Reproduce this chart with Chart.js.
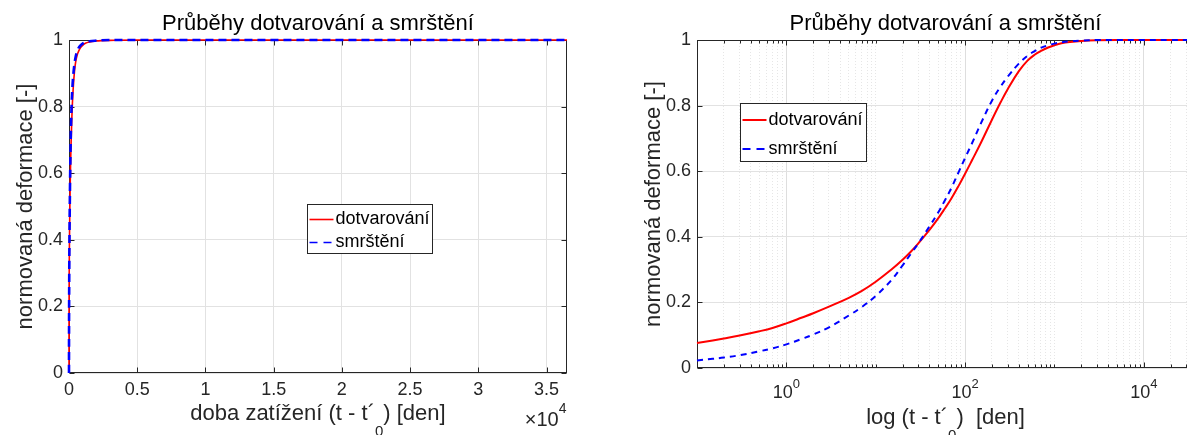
<!DOCTYPE html>
<html>
<head>
<meta charset="utf-8">
<script src="https://cdn.jsdelivr.net/npm/chart.js@4.4.0/dist/chart.umd.min.js"></script>
<style>
  html, body { margin: 0; padding: 0; background: #fff; overflow: hidden; width: 1187px; height: 435px; }
  #lin { position: absolute; left: 0; top: 0; }
  #log { position: absolute; left: 628px; top: 0; }
</style>
</head>
<body>
<canvas id="lin" width="590" height="435"></canvas>
<canvas id="log" width="589" height="435"></canvas>
<script>
// doba zatizeni [den] a normovane deformace
const days   = [0, 0.1, 0.15, 0.2, 0.3, 0.5, 0.7, 1, 1.5, 2, 3, 5, 7, 10, 15, 20, 25, 30, 40, 50, 60, 70, 85, 100, 120, 150, 200, 250, 300, 400, 500, 600, 700, 850, 1000, 1200, 1500, 2000, 3000, 5000, 10000, 20000, 36500];
const creep  = [0, 0.076, 0.084, 0.090, 0.099, 0.112, 0.122, 0.136, 0.154, 0.167, 0.187, 0.214, 0.235, 0.263, 0.300, 0.330, 0.356, 0.380, 0.421, 0.456, 0.488, 0.516, 0.556, 0.592, 0.634, 0.686, 0.757, 0.810, 0.850, 0.905, 0.937, 0.955, 0.966, 0.977, 0.984, 0.990, 0.994, 0.997, 0.999, 1, 1, 1, 1];
const shrink = [0, 0.023, 0.028, 0.032, 0.039, 0.051, 0.060, 0.072, 0.089, 0.102, 0.124, 0.160, 0.186, 0.220, 0.268, 0.313, 0.350, 0.380, 0.432, 0.474, 0.513, 0.548, 0.598, 0.640, 0.686, 0.745, 0.815, 0.858, 0.888, 0.928, 0.952, 0.966, 0.976, 0.984, 0.989, 0.993, 0.996, 0.998, 1, 1, 1, 1, 1];

const seriesNames = ['dotvarování', 'smrštění'];
const linTicks = [0, 5000, 10000, 15000, 20000, 25000, 30000, 35000];
const logMajor = [1, 100, 10000];
const logExp = { 1: '0', 100: '2', 10000: '4' };
const yTicks = [0, 0.2, 0.4, 0.6, 0.8, 1];

const titleText = 'Průběhy dotvarování a smrštění';
const yLabel = 'normovaná deformace [-]';
const xLabelLin = ['doba zatížení (t - t´', '0', ') [den]'];
const xLabelLog = ['log (t - t´', '0', ')  [den]'];

const FONT = '"Liberation Sans", Arial, sans-serif';
Chart.defaults.font.family = FONT;
Chart.defaults.color = '#262626';

// ramecek kolem grafu + ticky dovnitr (jako v matlabu)
const framePlugin = {
  id: 'frame',
  beforeDatasetsDraw(chart, args, o) {
    const { ctx, chartArea: a, scales } = chart;
    const L = Math.round(a.left) + 0.5, R = Math.round(a.right) - 0.5;
    const T = Math.round(a.top) + 0.5, B = Math.round(a.bottom) - 0.5;
    ctx.save();
    ctx.strokeStyle = '#262626';
    ctx.lineWidth = 1;
    ctx.strokeRect(L, T, R - L, B - T);
    ctx.beginPath();
    scales.x.ticks.forEach(t => {
      const px = Math.round(scales.x.getPixelForValue(t.value)) + 0.5;
      const len = (o.minor && !logMajor.includes(t.value)) ? 3 : 5;
      ctx.moveTo(px, B); ctx.lineTo(px, B - len);
      ctx.moveTo(px, T); ctx.lineTo(px, T + len);
    });
    scales.y.ticks.forEach(t => {
      const py = Math.round(scales.y.getPixelForValue(t.value)) + 0.5;
      ctx.moveTo(L, py); ctx.lineTo(L + 5, py);
      ctx.moveTo(R, py); ctx.lineTo(R - 5, py);
    });
    ctx.stroke();

    ctx.fillStyle = '#262626';
    ctx.textBaseline = 'alphabetic';
    if (o.exponent) {
      ctx.textAlign = 'right';
      ctx.font = '14px ' + FONT;
      ctx.fillText('4', R, 413);
      const w = ctx.measureText('4').width;
      ctx.font = '20px ' + FONT;
      ctx.fillText('×10', R - w, 426);
    }
    // popisky log osy 10^n
    if (o.powers) {
      ctx.textAlign = 'left';
      logMajor.forEach(v => {
        const px = scales.x.getPixelForValue(v);
        ctx.font = '18px ' + FONT;
        const w1 = ctx.measureText('10').width;
        ctx.font = '13px ' + FONT;
        const w2 = ctx.measureText(logExp[v]).width;
        const x0 = px - (w1 + w2) / 2;
        ctx.font = '18px ' + FONT;
        ctx.fillText('10', x0, B + 30);
        ctx.font = '13px ' + FONT;
        ctx.fillText(logExp[v], x0 + w1, B + 20);
      });
    }
    // nazev osy x s dolnim indexem
    const [pre, sub, post] = o.xLabel;
    ctx.font = '22px ' + FONT;
    const wp = ctx.measureText(pre).width, wq = ctx.measureText(post).width;
    ctx.font = '15px ' + FONT;
    const ws = ctx.measureText(sub).width;
    let cx = (a.left + a.right) / 2 - (wp + ws + wq) / 2;
    ctx.textAlign = 'left';
    ctx.font = '22px ' + FONT;
    ctx.fillText(pre, cx, o.xBase);
    ctx.font = '15px ' + FONT;
    ctx.fillText(sub, cx + wp, o.xBase + 16);
    ctx.font = '22px ' + FONT;
    ctx.fillText(post, cx + wp + ws, o.xBase);
    ctx.restore();
  }
};

const boxLegend = {
  id: 'boxLegend',
  afterDatasetsDraw(chart, args, o) {
    const { ctx, chartArea: a } = chart;
    const bx = Math.round(a.left + o.left) + 0.5, by = Math.round(a.top + o.top) + 0.5;
    ctx.save();
    ctx.fillStyle = '#fff';
    ctx.fillRect(bx, by, o.width, o.height);
    ctx.strokeStyle = '#262626';
    ctx.lineWidth = 1;
    ctx.strokeRect(bx, by, o.width, o.height);
    ctx.font = '18px ' + FONT;
    ctx.textBaseline = 'middle';
    chart.data.datasets.forEach((ds, i) => {
      const cy = by + o.firstRow + i * o.rowGap;
      ctx.beginPath();
      ctx.setLineDash(o.dash[i]);
      ctx.strokeStyle = ds.borderColor;
      ctx.lineWidth = o.lineWidth;
      ctx.moveTo(bx + 2, cy);
      ctx.lineTo(bx + 2 + o.sample, cy);
      ctx.stroke();
      ctx.setLineDash([]);
      ctx.fillStyle = '#000';
      ctx.fillText(ds.label, bx + o.sample + 4, cy);
    });
    ctx.restore();
  }
};

function makeSets(onlyPositive, redW, blueW, dash, smooth) {
  const pick = (vals) => days.map((t, i) => ({ x: t, y: vals[i] })).filter(p => !onlyPositive || p.x > 0);
  const curve = smooth ? { tension: 0.4 } : { cubicInterpolationMode: 'monotone' };
  return [
    Object.assign({ label: seriesNames[0], data: pick(creep), borderColor: '#ff0000', borderWidth: redW,
      pointRadius: 0, clip: false, order: 2 }, curve),
    Object.assign({ label: seriesNames[1], data: pick(shrink), borderColor: '#0000ff', borderWidth: blueW,
      borderDash: dash, pointRadius: 0, clip: false, order: 1 }, curve)
  ];
}

function yScale() {
  return {
    type: 'linear', min: 0, max: 1,
    afterFit: s => { s.width = 69; },
    afterBuildTicks: s => { s.ticks = yTicks.map(v => ({ value: v })); },
    ticks: { font: { size: 18 }, padding: 6, color: '#262626', callback: v => String(Number(v.toFixed(1))) },
    grid: { color: '#e2e2e2', lineWidth: 1, drawTicks: false },
    border: { display: false },
    title: { display: true, text: yLabel, font: { size: 22 }, color: '#262626', padding: { top: 13, bottom: 0 } }
  };
}

function titleOpts() {
  return { display: true, text: titleText, fullSize: false, color: '#000',
           font: { size: 22, weight: 'normal' }, padding: { top: 11, bottom: 2.6 } };
}

new Chart(document.getElementById('lin'), {
  type: 'line',
  data: { datasets: makeSets(false, 1.6, 2.6, [8, 5], false) },
  options: {
    responsive: false, animation: false, events: [],
    layout: { padding: { left: 0, right: 23, top: 0, bottom: 0 } },
    plugins: {
      legend: { display: false }, tooltip: { enabled: false },
      title: titleOpts(),
      frame: { exponent: true, minor: false, powers: false, xLabel: xLabelLin, xBase: 420 },
      boxLegend: { left: 238, top: 164, width: 125, height: 49, firstRow: 15, rowGap: 23,
                   sample: 24, lineWidth: 1.6, dash: [[], [8, 6]] }
    },
    scales: {
      x: {
        type: 'linear', min: 0, max: 36500,
        afterFit: s => { s.height = 62; },
        afterBuildTicks: s => { s.ticks = linTicks.map(v => ({ value: v })); },
        ticks: { font: { size: 18 }, padding: 6, color: '#262626', maxRotation: 0, autoSkip: false,
                 callback: v => String(v / 10000) },
        grid: { color: '#e2e2e2', lineWidth: 1, drawTicks: false },
        border: { display: false },
        title: { display: false }
      },
      y: yScale()
    }
  },
  plugins: [framePlugin, boxLegend]
});

// log osa: vsechny mezidekadove ticky pro mrizku
function logTicks(min, max) {
  const out = [];
  for (let n = -1; n <= 4; n++) {
    for (let k = 1; k <= 9; k++) {
      const v = Number((k * Math.pow(10, n)).toPrecision(3));
      if (v >= min && v <= max) out.push({ value: v, major: logMajor.includes(v) });
    }
  }
  return out;
}

new Chart(document.getElementById('log'), {
  type: 'line',
  data: { datasets: makeSets(true, 2, 2, [6, 5], true) },
  options: {
    responsive: false, animation: false, events: [],
    layout: { padding: { left: 0, right: 23, top: 0, bottom: 0 } },
    plugins: {
      legend: { display: false }, tooltip: { enabled: false },
      title: titleOpts(),
      frame: { exponent: false, minor: true, powers: true, xLabel: xLabelLog, xBase: 423.5 },
      boxLegend: { left: 43, top: 62.5, width: 126, height: 58, firstRow: 16.5, rowGap: 29,
                   sample: 24, lineWidth: 2, dash: [[], [8, 6]] }
    },
    scales: {
      x: {
        type: 'logarithmic', min: 0.1, max: 36500,
        afterFit: s => { s.height = 67; },
        afterBuildTicks: s => { s.ticks = logTicks(0.1, 36500); },
        ticks: { display: false, autoSkip: false },
        grid: {
          color: c => (c.tick && logMajor.includes(c.tick.value)) ? '#dedede' : '#e6e6e6',
          lineWidth: 1, drawTicks: false
        },
        border: { display: false, dash: c => (c.tick && logMajor.includes(c.tick.value)) ? [] : [1, 2] },
        title: { display: false }
      },
      y: yScale()
    }
  },
  plugins: [framePlugin, boxLegend]
});
</script>
</body>
</html>
